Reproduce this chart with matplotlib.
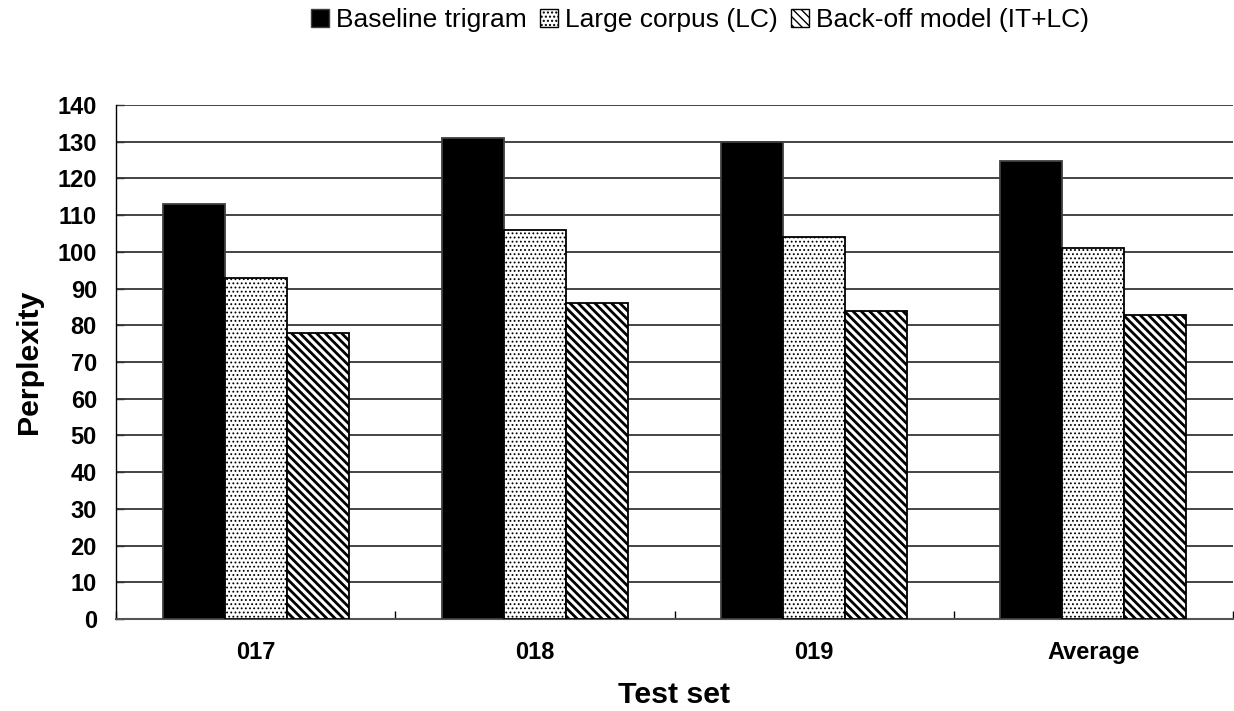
import matplotlib
matplotlib.use("Agg")
import matplotlib.pyplot as plt
import numpy as np
from matplotlib.patches import Patch

plt.rcParams['font.family'] = ['Liberation Sans', 'DejaVu Sans']

categories = ["017", "018", "019", "Average"]
series_names = ["Baseline trigram", "Large corpus (LC)", "Back-off model (IT+LC)"]
baseline = [113, 131, 130, 124.7]
large_corpus = [93, 106, 104, 101]
backoff = [78, 86, 84, 82.7]
yticks = list(range(0, 141, 10))

W, H = 1234, 711
fig = plt.figure(figsize=(W / 100, H / 100), dpi=100)
ax = fig.add_axes([116 / W, (H - 619) / H, (1233 - 116) / W, (619 - 105) / H])

x = np.arange(len(categories))
bw = 0.222

styles = [
    dict(facecolor="black", edgecolor="#404040", hatch=None, hlw=1.0),
    dict(facecolor="white", edgecolor="black", hatch="....", hlw=0.8),
    dict(facecolor="white", edgecolor="black", hatch="\\\\\\\\", hlw=2.0),
]
data = [baseline, large_corpus, backoff]
handles = []
for i, (vals, st) in enumerate(zip(data, styles)):
    with plt.rc_context({'hatch.linewidth': st['hlw']}):
        bars = ax.bar(x + (i - 1) * bw, vals, bw, facecolor=st['facecolor'],
                      edgecolor=st['edgecolor'], hatch=st['hatch'], linewidth=1.3,
                      zorder=3)
        for b in bars:
            try:
                b.set_hatch_linewidth(st['hlw'])
            except Exception:
                pass
        h = Patch(facecolor=st['facecolor'], edgecolor=st['edgecolor'],
                  hatch=st['hatch'], linewidth=1.0, label=series_names[i])
        try:
            h.set_hatch_linewidth(st['hlw'] * 0.6)
        except Exception:
            pass
        handles.append(h)

ax.set_xlim(-0.5, len(categories) - 0.5)
ax.set_ylim(0, 140)
ax.set_yticks(yticks)
ax.set_yticklabels([str(v) for v in yticks], fontsize=17, fontweight='bold')
ax.yaxis.grid(True, color="#111111", linewidth=1.1, zorder=0)
ax.set_axisbelow(True)

ax.set_xticks(x)
ax.set_xticklabels(categories, fontsize=17, fontweight='bold')
ax.set_xticks(np.arange(len(categories) + 1) - 0.5, minor=True)
ax.tick_params(axis='x', which='major', length=0, pad=16)
ax.tick_params(axis='x', which='minor', direction='in', length=5.5, width=1.0, color='black')
ax.tick_params(axis='y', which='major', direction='in', length=6, width=1.0, pad=13.7,
               color='#333333')

for s in ['top', 'right']:
    ax.spines[s].set_visible(False)
ax.spines['left'].set_color('black')
ax.spines['left'].set_linewidth(1.0)
ax.spines['bottom'].set_color('#555555')
ax.spines['bottom'].set_linewidth(1.5)

ax.set_ylabel("Perplexity", fontsize=21.8, fontweight='bold')
ax.yaxis.set_label_coords((43 - 116) / (1233 - 116), 0.5)
ax.set_xlabel("Test set", fontsize=21.8, fontweight='bold', va='baseline')
ax.xaxis.set_label_coords(0.5, (619 - 703) / (619 - 105))

fig.legend(handles=handles, loc='center', ncol=3,
           bbox_to_anchor=(700 / W, (H - 20) / H), frameon=False,
           fontsize=19, handlelength=0.7, handleheight=0.7,
           handletextpad=0.25, columnspacing=0.5, borderpad=0)

fig.savefig("out.png", dpi=100)
